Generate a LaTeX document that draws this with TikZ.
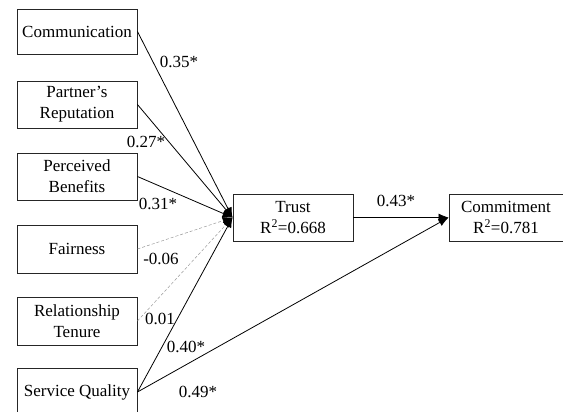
\documentclass[tikz,border=0pt]{standalone}
\usepackage{fontspec}
\setmainfont{Liberation Serif}
\newfontfamily\tnr{Liberation Serif}
\usetikzlibrary{arrows.meta}
\begin{document}
\begin{tikzpicture}[x=1pt,y=-1pt,
  box/.style={draw=black!85,line width=0.9pt,inner sep=0pt,align=center,
    minimum width=120pt,minimum height=47pt,font=\tnr\fontsize{17}{21}\selectfont},
  lbl/.style={inner sep=0pt,font=\tnr\fontsize{17}{21}\selectfont},
  path/.style={line width=0.8pt,-{Latex[length=10pt,width=8pt]}},
  ns/.style={draw=gray!80,line width=0.5pt,dash pattern=on 3pt off 2pt,arrows={-{Latex[length=10pt,width=8pt,fill=black,color=black]}}}]
\useasboundingbox (0,0) rectangle (563,412);
\node[box,minimum height=45pt] (com) at (77,31.5) {Communication};
\node[box] (rep) at (77,104.5) {Partner’s\\Reputation};
\node[box] (ben) at (77,176.5) {Perceived\\Benefits};
\node[box,minimum height=48pt] (fair) at (77,249) {Fairness};
\node[box,minimum height=48pt] (ten) at (77,321) {Relationship\\Tenure};
\node[box,minimum height=48pt] (sq) at (77,392) {Service Quality};
\node[box] (trust) at (293,217.5) {Trust\\R\textsuperscript{2}=0.668};
\node[box,minimum width=114pt] (comm) at (506,217.5) {Commitment\\R\textsuperscript{2}=0.781};
\draw[path] (com.east) -- (trust.west);
\draw[path] (rep.east) -- (trust.west);
\draw[path] (ben.east) -- (trust.west);
\draw[ns] (fair.east) -- (trust.west);
\draw[ns] (ten.east) -- (trust.west);
\draw[path] (sq.east) -- (trust.west);
\draw[path] (sq.east) -- (comm.west);
\draw[path] (trust.east) -- (comm.west);
\node[lbl] (l1) at (179,62) {0.35*};
\node[lbl] (l2) at (146,142) {0.27*};
\node[lbl] (l3) at (158,204) {0.31*};
\node[lbl] (l4) at (161,259) {-0.06};
\node[lbl] (l5) at (160,319) {0.01};
\node[lbl] (l6) at (186,347) {0.40*};
\node[lbl] (l7) at (198,392) {0.49*};
\node[lbl] (l8) at (396,201) {0.43*};
\end{tikzpicture}
\end{document}
